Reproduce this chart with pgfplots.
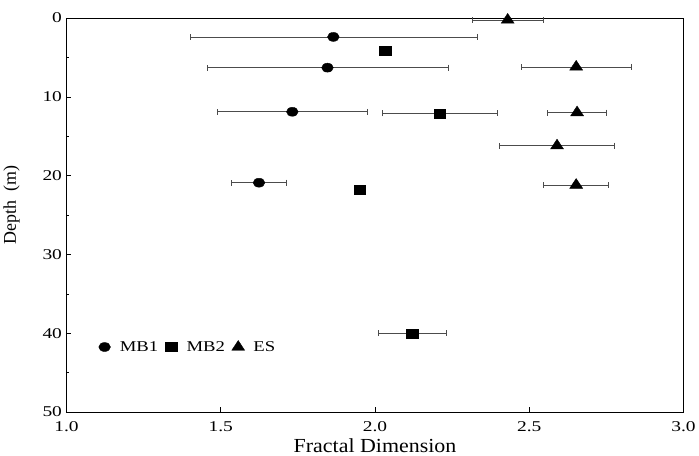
\documentclass[border=0pt]{standalone}
\usepackage{fontspec}
\setmainfont{Liberation Serif}
\usepackage{pgfplots}
\pgfplotsset{compat=1.18}

\begin{document}
\begin{tikzpicture}
\begin{axis}[
    width=617bp, height=394bp, scale only axis,
    xmin=1, xmax=3, ymin=0, ymax=50,
    y dir=reverse,
    xtick={1,1.5,2,2.5,3},
    ytick={0,10,20,30,40,50},
    minor y tick num=1,
    tick align=inside,
    xtick pos=bottom, ytick pos=left,
    major tick length=5bp, minor tick length=3bp,
    axis line style={line width=0.8pt},
    tick style={line width=0.6pt, black},
    /pgf/number format/assume math mode=true,
    xticklabel={\scalebox{1.3}[1]{\pgfmathprintnumber[fixed,fixed zerofill,precision=1]{\tick}}},
    yticklabel={\scalebox{1.3}[1]{\pgfmathprintnumber{\tick}}},
    ticklabel style={font=\fontsize{15}{17}\selectfont},
    xticklabel style={yshift=-6bp},
    yticklabel style={xshift=-1bp},
    xlabel={\scalebox{1.1}[1]{Fractal Dimension}},
    ylabel={Depth\ \ (m)},
    xlabel style={font=\fontsize{20}{22}\selectfont,
        at={(axis description cs:0.5,0)}, anchor=base, yshift=-40bp},
    ylabel style={font=\fontsize{18}{20}\selectfont,
        at={(axis description cs:0,0.5)}, anchor=center, xshift=10bp, yshift=55bp},
    legend columns=3,
    legend style={draw=none, fill=none, at={(0.045,0.165)}, anchor=west,
        font=\fontsize{15}{17}\selectfont,
        /tikz/every even column/.append style={column sep=4bp}},
    legend image code/.code={\path (0bp,0bp) (20bp,0bp); \draw[#1] plot coordinates {(7bp,0bp)};},
    error bars/error bar style={line width=0.6pt, black!70},
    error bars/error mark options={rotate=90, mark size=3bp, line width=0.6pt, black!70},
]
% MB1
\addplot[only marks, mark=*, mark size=4.5bp, mark options={xscale=1.3, fill=black},
    error bars/.cd, x dir=both, x explicit]
coordinates {
    (1.865,2.4)  +- (0.465,0)
    (1.846,6.3)  +- (0.39,0)
    (1.732,11.9) +- (0.244,0)
    (1.624,20.9) +- (0.09,0)
};
\addlegendentry{\scalebox{1.25}[1]{MB1}}
% MB2
\addplot[only marks, mark=square*, mark size=4.5bp, mark options={xscale=1.3, fill=black}]
coordinates {
    (2.034,4.1)
    (1.95,21.8)
};
\addlegendentry{\scalebox{1.25}[1]{MB2}}
\addplot[forget plot, only marks, mark=square*, mark size=4.5bp, mark options={xscale=1.3, fill=black},
    error bars/.cd, x dir=both, x explicit]
coordinates {
    (2.21,12.1) +- (0.187,0)
    (2.12,40.0) +- (0.11,0)
};
% ES
\addplot[only marks, mark=triangle*, mark size=6.5bp, mark options={xscale=1.15, fill=black},
    error bars/.cd, x dir=both, x explicit]
coordinates {
    (2.43,0.25)  +- (0.114,0)
    (2.652,6.2)  +- (0.179,0)
    (2.655,12.0) +- (0.095,0)
    (2.59,16.2)  +- (0.187,0)
    (2.652,21.2) +- (0.105,0)
};
\addlegendentry{\scalebox{1.25}[1]{ES}}
\end{axis}
\path (current axis.north) ++(0,18bp);
\end{tikzpicture}
\end{document}
